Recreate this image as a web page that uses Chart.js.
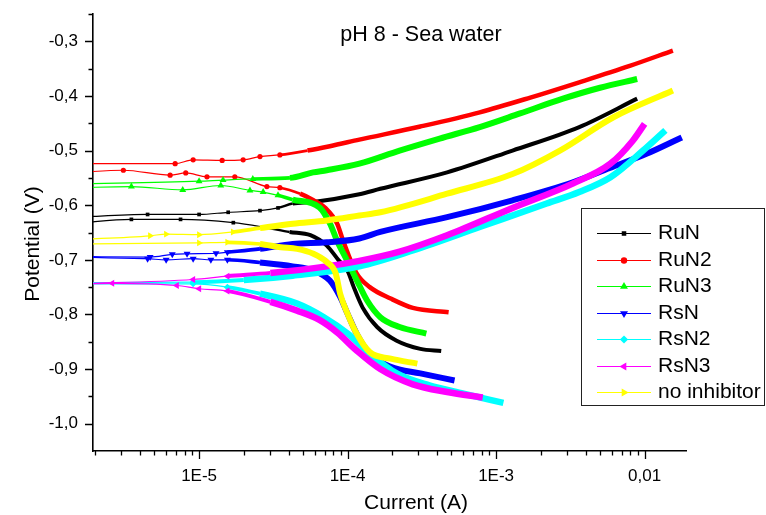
<!DOCTYPE html>
<html>
<head>
<meta charset="utf-8">
<title>pH 8 - Sea water</title>
<script src="https://cdn.jsdelivr.net/npm/chart.js@4.4.1/dist/chart.umd.min.js"></script>
<style>
  html, body { margin: 0; padding: 0; background: #fff; }
  #wrap { width: 766px; height: 515px; }
</style>
</head>
<body>
<div id="wrap"><canvas id="tafel" width="766" height="515"></canvas></div>
<script>
// Tafel curves in sea water, [current (A), potential (V)], each branch sorted by current
const seriesNames = ['RuN', 'RuN2', 'RuN3', 'RsN', 'RsN2', 'RsN3', 'no inhibitor'];

const runCathodic = [
  [1.5e-6, -0.633], [3.5e-6, -0.626], [7.5e-6, -0.626], [1.7e-5, -0.632], [2.69e-5, -0.640],
  [4.07e-5, -0.649], [5.62e-5, -0.655], [7.24e-5, -0.674], [8.71e-5, -0.701], [1.0e-4, -0.720],
  [1.10e-4, -0.750], [1.26e-4, -0.787], [1.58e-4, -0.823], [2.14e-4, -0.848], [3.09e-4, -0.863],
  [4.27e-4, -0.867]
];
const runAnodic = [
  [1.5e-6, -0.622], [4.5e-6, -0.617], [1.0e-5, -0.617], [1.57e-5, -0.613], [2.57e-5, -0.610],
  [3.4e-5, -0.605], [4.27e-5, -0.597], [5.9e-5, -0.594], [1.2e-4, -0.580], [1.66e-4, -0.570],
  [4.68e-4, -0.540], [1.29e-3, -0.500], [3.63e-3, -0.457], [8.91e-3, -0.405]
];

const run2Cathodic = [
  [1.5e-6, -0.540], [3.09e-6, -0.536], [6.38e-6, -0.545], [8.13e-6, -0.541], [1.13e-5, -0.548],
  [1.74e-5, -0.548], [2.86e-5, -0.566], [3.5e-5, -0.568], [4.79e-5, -0.579], [5.89e-5, -0.591],
  [7.08e-5, -0.605], [8.51e-5, -0.634], [9.3e-5, -0.664], [1.15e-4, -0.725], [1.41e-4, -0.750],
  [1.95e-4, -0.771], [2.75e-4, -0.788], [4.79e-4, -0.796]
];
const run2Anodic = [
  [1.5e-6, -0.524], [6.9e-6, -0.524], [9.12e-6, -0.517], [1.43e-5, -0.518], [1.98e-5, -0.517],
  [2.57e-5, -0.511], [3.5e-5, -0.508], [5.37e-5, -0.500], [7.59e-5, -0.492], [1.2e-4, -0.480],
  [3.09e-4, -0.456], [7.76e-4, -0.430], [1.70e-3, -0.403], [3.63e-3, -0.375], [7.94e-3, -0.345],
  [1.55e-2, -0.317]
];

const run3Cathodic = [
  [1.5e-6, -0.568], [3.5e-6, -0.566], [7.76e-6, -0.572], [1.4e-5, -0.564], [2.2e-5, -0.573],
  [2.7e-5, -0.576], [3.4e-5, -0.582], [4.27e-5, -0.590], [6.46e-5, -0.604], [7.62e-5, -0.634],
  [8.49e-5, -0.665], [9.9e-5, -0.701], [1.156e-4, -0.738], [1.35e-4, -0.774], [1.66e-4, -0.805],
  [2.24e-4, -0.823], [3.39e-4, -0.835]
];
const run3Anodic = [
  [1.5e-6, -0.561], [1.0e-5, -0.556], [1.45e-5, -0.554], [2.3e-5, -0.552], [4.09e-5, -0.550],
  [5.85e-5, -0.540], [7.24e-5, -0.536], [1.2e-4, -0.524], [2.24e-4, -0.500], [4.17e-4, -0.478],
  [7.76e-4, -0.457], [1.45e-3, -0.432], [2.82e-3, -0.405], [5.01e-3, -0.385], [8.91e-3, -0.369]
];

const rsnCathodic = [
  [1.5e-6, -0.695], [4.5e-6, -0.698], [6.0e-6, -0.700], [9.12e-6, -0.698], [1.2e-5, -0.700],
  [1.55e-5, -0.700], [2.57e-5, -0.705], [4.27e-5, -0.712], [5.89e-5, -0.720], [7.59e-5, -0.738],
  [8.91e-5, -0.768], [1.0e-4, -0.799], [1.15e-4, -0.835], [1.41e-4, -0.872], [1.95e-4, -0.896],
  [3.09e-4, -0.908], [5.25e-4, -0.921]
];
const rsnAnodic = [
  [1.5e-6, -0.694], [4.68e-6, -0.695], [6.6e-6, -0.690], [8.3e-6, -0.689], [1.3e-5, -0.688],
  [1.55e-5, -0.686], [2.57e-5, -0.680], [4.27e-5, -0.671], [7.24e-5, -0.668], [1.2e-4, -0.661],
  [1.66e-4, -0.649], [4.68e-4, -0.622], [1.29e-3, -0.591], [3.29e-3, -0.558], [5.83e-3, -0.532],
  [1.03e-2, -0.506], [1.78e-2, -0.476]
];

const rsn2Cathodic = [
  [1.5e-6, -0.744], [9.12e-6, -0.744], [1.55e-5, -0.750], [2.57e-5, -0.762], [4.57e-5, -0.780],
  [6.92e-5, -0.805], [1.0e-4, -0.835], [1.41e-4, -0.872], [2.14e-4, -0.908], [3.55e-4, -0.930],
  [6.03e-4, -0.945], [1.12e-3, -0.962]
];
const rsn2Anodic = [
  [1.5e-6, -0.742], [9.12e-6, -0.741], [2.0e-5, -0.737], [4.27e-5, -0.729], [1.2e-4, -0.712],
  [2.75e-4, -0.683], [7.76e-4, -0.640], [2.19e-3, -0.597], [3.63e-3, -0.576], [5.89e-3, -0.549],
  [9.77e-3, -0.500], [1.38e-2, -0.463]
];

const rsn3Cathodic = [
  [1.5e-6, -0.744], [2.6e-6, -0.743], [7.08e-6, -0.747], [1.0e-5, -0.753], [1.55e-5, -0.757],
  [3.02e-5, -0.777], [4.57e-5, -0.793], [6.46e-5, -0.810], [8.51e-5, -0.833], [1.15e-4, -0.866],
  [1.66e-4, -0.900], [2.75e-4, -0.928], [4.68e-4, -0.942], [8.13e-4, -0.952]
];
const rsn3Anodic = [
  [1.5e-6, -0.744], [9.12e-6, -0.736], [1.55e-5, -0.730], [3.02e-5, -0.724], [7.24e-5, -0.712],
  [1.2e-4, -0.702], [2.24e-4, -0.685], [4.68e-4, -0.655], [1.29e-3, -0.605], [3.31e-3, -0.560],
  [5.89e-3, -0.524], [8.32e-3, -0.482], [1.0e-2, -0.451]
];

const blankCathodic = [
  [1.5e-6, -0.671], [1.0e-5, -0.669], [1.55e-5, -0.668], [2.57e-5, -0.671], [3.55e-5, -0.677],
  [4.57e-5, -0.680], [5.89e-5, -0.689], [7.24e-5, -0.704], [8.32e-5, -0.725], [8.91e-5, -0.762],
  [1.0e-4, -0.799], [1.15e-4, -0.835], [1.41e-4, -0.869], [1.95e-4, -0.881], [2.95e-4, -0.890]
];
const blankAnodic = [
  [1.5e-6, -0.663], [4.68e-6, -0.656], [6.0e-6, -0.653], [1.0e-5, -0.654], [1.69e-5, -0.649],
  [2.57e-5, -0.642], [4.27e-5, -0.634], [7.24e-5, -0.628], [1.2e-4, -0.619], [1.66e-4, -0.613],
  [4.68e-4, -0.579], [1.29e-3, -0.543], [2.69e-3, -0.500], [6.17e-3, -0.439], [1.55e-2, -0.390]
];

const xTickValues = [1e-5, 1e-4, 1e-3, 1e-2];
const xTickLabels = ['1E-5', '1E-4', '1E-3', '0,01'];
const yTickValues = [-1.0, -0.9, -0.8, -0.7, -0.6, -0.5, -0.4, -0.3];
const yTickLabels = ['-1,0', '-0,9', '-0,8', '-0,7', '-0,6', '-0,5', '-0,4', '-0,3'];

const xMin = 1.93e-6, xMax = 0.019;
const yMin = -1.05, yMax = -0.25;

// look of each series: thin line + markers near Ecorr, thick band where the points crowd
const styles = {
  'RuN':          { color: '#000000', marker: 'rect',     rotation: 0,   radius: 2.6, band: 4,   dense: 4.0e-5 },
  'RuN2':         { color: '#ff0000', marker: 'circle',   rotation: 0,   radius: 2.6, band: 4.5, dense: 4.5e-5 },
  'RuN3':         { color: '#00ff00', marker: 'triangle', rotation: 0,   radius: 4,   band: 6,   dense: 3.5e-5 },
  'RsN':          { color: '#0000ff', marker: 'triangle', rotation: 180, radius: 4,   band: 6,   dense: 2.5e-5 },
  'RsN2':         { color: '#00ffff', marker: 'rectRot',  rotation: 0,   radius: 3.5, band: 6.5, dense: 2.0e-5 },
  'RsN3':         { color: '#ff00ff', marker: 'triangle', rotation: 270, radius: 4,   band: 6.5, dense: 2.0e-5 },
  'no inhibitor': { color: '#ffff00', marker: 'triangle', rotation: 90,  radius: 4,   band: 6,   dense: 2.0e-5 }
};

const branches = [
  ['RuN', runCathodic], ['RuN', runAnodic],
  ['RuN2', run2Cathodic], ['RuN2', run2Anodic],
  ['RuN3', run3Cathodic], ['RuN3', run3Anodic],
  ['RsN', rsnCathodic], ['RsN', rsnAnodic],
  ['RsN2', rsn2Cathodic], ['RsN2', rsn2Anodic],
  ['RsN3', rsn3Cathodic], ['RsN3', rsn3Anodic],
  ['no inhibitor', blankCathodic], ['no inhibitor', blankAnodic]
];

function makeBranch(name, points) {
  const st = styles[name];
  return {
    label: name,
    data: points.map(p => ({ x: p[0], y: p[1] })),
    borderColor: st.color,
    backgroundColor: st.color,
    pointStyle: st.marker,
    pointRotation: st.rotation,
    pointRadius: ctx => (ctx.raw && ctx.raw.x < st.dense ? st.radius : 0),
    pointBorderWidth: 0,
    borderWidth: st.band,
    cubicInterpolationMode: 'monotone',
    segment: {
      // thin where the points are sparse, a short ramp, then the full band
      borderWidth: ctx => {
        if (ctx.p1.parsed.x < st.dense) return 1.2;
        if (ctx.p0.parsed.x < st.dense) return Math.max(1.2, st.band * 0.6);
        return st.band;
      }
    },
    borderCapStyle: 'butt',
    borderJoinStyle: 'round',
    clip: 0,
    // later series sit on top
    order: seriesNames.length - seriesNames.indexOf(name)
  };
}

const FONT = '"Liberation Sans", Arial, sans-serif';
Chart.defaults.font.family = FONT;
Chart.defaults.color = '#000';

// minor and major tick marks on both axes
const tickMarks = {
  id: 'tickMarks',
  afterDraw(chart) {
    const { ctx, chartArea } = chart;
    const x = chart.scales.x, y = chart.scales.y;
    ctx.save();
    ctx.strokeStyle = '#000';
    ctx.lineWidth = 1.3;
    ctx.beginPath();
    const e0 = Math.floor(Math.log10(x.min)), e1 = Math.ceil(Math.log10(x.max));
    for (let e = e0; e <= e1; e++) {
      for (let k = 1; k <= 9; k++) {
        const v = k * Math.pow(10, e);
        if (v < x.min || v > x.max) continue;
        const px = Math.round(x.getPixelForValue(v)) + 0.5;
        ctx.moveTo(px, chartArea.bottom);
        ctx.lineTo(px, chartArea.bottom + (k === 1 ? 8 : 4.5));
      }
    }
    for (let i = 1; i <= 16; i++) {
      const v = yMin + i * 0.05;
      const py = Math.round(y.getPixelForValue(v)) + 0.5;
      ctx.moveTo(chartArea.left, py);
      ctx.lineTo(chartArea.left - (i % 2 === 1 ? 8 : 4.5), py);
    }
    ctx.stroke();
    ctx.restore();
  }
};

// title, axis titles and the boxed legend on the right
const boxLegend = {
  id: 'boxLegend',
  afterDraw(chart) {
    const ctx = chart.ctx;
    ctx.save();
    ctx.fillStyle = '#000';
    ctx.textAlign = 'center';
    ctx.textBaseline = 'middle';
    ctx.font = '21.5px ' + FONT;
    ctx.fillText('pH 8 - Sea water', 421, 35);

    ctx.font = '21px ' + FONT;
    ctx.fillText('Current (A)', 416, 503);
    ctx.save();
    ctx.translate(33, 244);
    ctx.rotate(-Math.PI / 2);
    ctx.fillText('Potential (V)', 0, 0);
    ctx.restore();

    ctx.fillStyle = '#fff';
    ctx.fillRect(582, 209, 183, 197);
    ctx.strokeStyle = '#222';
    ctx.lineWidth = 1;
    ctx.strokeRect(581.5, 208.5, 183, 197);

    ctx.textAlign = 'left';
    ctx.font = '21px ' + FONT;
    seriesNames.forEach((name, i) => {
      const st = styles[name];
      const yy = Math.round(233 + i * 26.5) + 0.5;
      ctx.strokeStyle = st.color;
      ctx.lineWidth = 1;
      ctx.beginPath();
      ctx.moveTo(597, yy);
      ctx.lineTo(651, yy);
      ctx.stroke();
      ctx.fillStyle = st.color;
      if (Chart.helpers && Chart.helpers.drawPoint) {
        Chart.helpers.drawPoint(ctx, {
          pointStyle: st.marker, rotation: st.rotation,
          radius: st.radius + 0.6, borderWidth: 0
        }, 624, yy);
      }
      ctx.fillStyle = '#000';
      ctx.fillText(name, 658, yy);
    });
    ctx.restore();
  }
};

new Chart(document.getElementById('tafel'), {
  type: 'line',
  data: { datasets: branches.map(b => makeBranch(b[0], b[1])) },
  options: {
    responsive: false,
    animation: false,
    events: [],
    layout: { padding: { left: 0, right: 80, top: 14, bottom: 0 } },
    plugins: {
      legend: { display: false },
      tooltip: { enabled: false },
      title: { display: false }
    },
    scales: {
      x: {
        type: 'logarithmic',
        min: xMin,
        max: xMax,
        grid: { display: false, drawTicks: false },
        border: { display: true, color: '#000', width: 1.6 },
        afterBuildTicks: s => { s.ticks = xTickValues.map(v => ({ value: v })); },
        afterFit: s => { s.height = 64; s.paddingLeft = 0; s.paddingRight = 0; },
        ticks: {
          autoSkip: false,
          maxRotation: 0,
          padding: 15,
          font: { size: 17 },
          color: '#000',
          callback: (v, i) => xTickLabels[i]
        }
      },
      y: {
        type: 'linear',
        min: yMin,
        max: yMax,
        grid: { display: false, drawTicks: false },
        border: { display: true, color: '#000', width: 1.6 },
        afterBuildTicks: s => { s.ticks = yTickValues.map(v => ({ value: v })); },
        afterFit: s => { s.width = 93; s.paddingTop = 0; s.paddingBottom = 0; },
        ticks: {
          padding: 15,
          font: { size: 17 },
          color: '#000',
          callback: (v, i) => yTickLabels[i]
        }
      }
    }
  },
  plugins: [tickMarks, boxLegend]
});
</script>
</body>
</html>
